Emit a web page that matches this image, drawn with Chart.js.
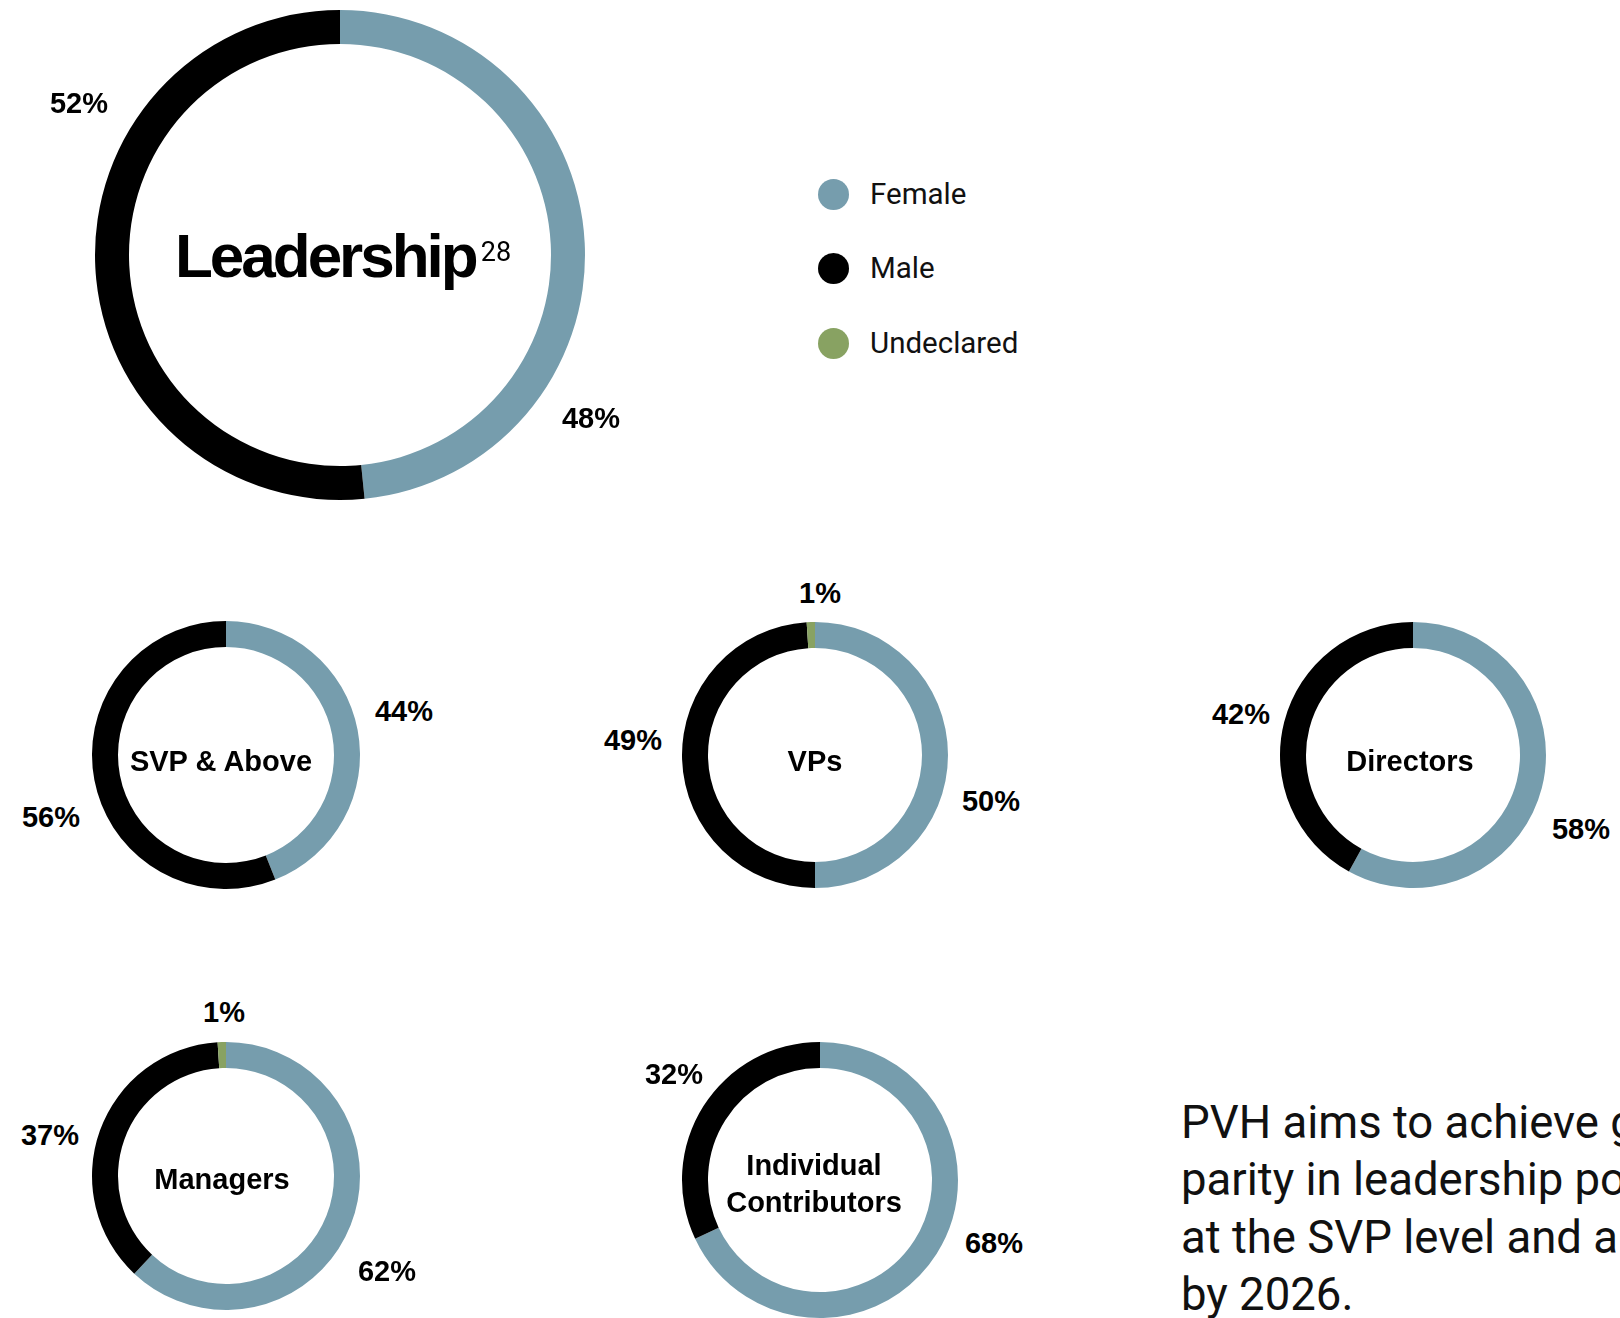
<!DOCTYPE html>
<html>
<head>
<meta charset="utf-8">
<title>Leadership gender representation</title>
<script src="https://cdn.jsdelivr.net/npm/chart.js@4.4.1/dist/chart.umd.min.js"></script>
<style>
  body { margin: 0; background: #fff; }
  #page {
    position: relative;
    width: 1620px;
    height: 1318px;
    overflow: hidden;
    font-family: 'Liberation Sans', Arial, sans-serif;
    color: #000;
  }
  .donut { position: absolute; }
  .pct {
    position: absolute;
    transform: translate(-50%, -50%);
    font-weight: bold;
    font-size: 29px;
    line-height: 1;
    white-space: nowrap;
  }
  .center-label {
    position: absolute;
    transform: translate(-50%, -50%);
    font-weight: bold;
    font-size: 29px;
    line-height: 37px;
    text-align: center;
    white-space: pre-line;
  }
  .center-label.big {
    font-size: 62px;
    letter-spacing: -3px;
    line-height: 1;
    white-space: nowrap;
  }
  .center-label .sup {
    font-family: Roboto, sans-serif;
    font-weight: normal;
    font-size: 27px;
    letter-spacing: 0;
    line-height: 0;
    vertical-align: 16px;
    margin-left: 5px;
  }
  .legend-item {
    position: absolute;
    left: 818px;
    height: 32px;
    display: flex;
    align-items: center;
    font-family: Roboto, sans-serif;
    font-size: 29.5px;
    color: #111;
  }
  .legend-dot {
    width: 31px;
    height: 31px;
    border-radius: 50%;
    margin-right: 21px;
  }
  #note {
    position: absolute;
    left: 1181px;
    top: 1094px;
    font-family: Roboto, sans-serif;
    font-size: 45.5px;
    line-height: 57.3px;
    white-space: nowrap;
    color: #111;
  }
</style>
</head>
<body>
<div id="page">
  <div id="note">PVH aims to achieve gender<br>parity in leadership positions<br>at the SVP level and above<br>by 2026.</div>
</div>
<script>
  // Data (labels are the rounded values)
  const groups = ['Leadership', 'SVP & Above', 'VPs', 'Directors', 'Managers', 'Individual\nContributors'];
  const categories = ['Female', 'Male', 'Undeclared'];
  const colors = ['#769dad', '#000000', '#88a262'];
  const female = [48.4, 44, 50, 58, 62, 68];
  const male = [51.6, 56, 49, 42, 37, 32];
  const undeclared = [0, 0, 1, 0, 1, 0];
  const leadershipFootnote = '28';

  // Where each donut and its labels sit on the page
  const layout = [
    { cx: 340, cy: 255, r: 245, inner: 211, labels: [[591, 418], [79, 103], null], title: [343, 256] },
    { cx: 226, cy: 755, r: 134, inner: 108, labels: [[404, 711], [51, 817], null], title: [221, 761] },
    { cx: 815, cy: 755, r: 133, inner: 107, labels: [[991, 801], [633, 740], [820, 593]], title: [815, 761] },
    { cx: 1413, cy: 755, r: 133, inner: 107, labels: [[1581, 829], [1241, 714], null], title: [1410, 761] },
    { cx: 226, cy: 1176, r: 134, inner: 108, labels: [[387, 1271], [50, 1135], [224, 1012]], title: [222, 1179] },
    { cx: 820, cy: 1180, r: 138, inner: 112, labels: [[994, 1243], [674, 1074], null], title: [814, 1184] }
  ];
  const legendY = [194, 268, 343];

  const page = document.getElementById('page');

  function addDiv(cls, x, y, text) {
    const d = document.createElement('div');
    d.className = cls;
    d.style.left = x + 'px';
    d.style.top = y + 'px';
    d.textContent = text;
    page.appendChild(d);
    return d;
  }

  groups.forEach((name, i) => {
    const L = layout[i];
    const size = 2 * L.r + 4;
    const canvas = document.createElement('canvas');
    canvas.className = 'donut';
    canvas.width = size;
    canvas.height = size;
    canvas.style.left = (L.cx - size / 2) + 'px';
    canvas.style.top = (L.cy - size / 2) + 'px';
    page.appendChild(canvas);

    new Chart(canvas.getContext('2d'), {
      type: 'doughnut',
      data: {
        labels: categories,
        datasets: [{
          data: [female[i], male[i], undeclared[i]],
          backgroundColor: colors,
          borderWidth: 0,
          hoverOffset: 0
        }]
      },
      options: {
        responsive: false,
        animation: false,
        events: [],
        radius: L.r,
        cutout: (L.inner / L.r * 100) + '%',
        layout: { padding: 0 },
        plugins: {
          legend: { display: false },
          tooltip: { enabled: false }
        }
      }
    });

    // percentage labels
    const values = [female[i], male[i], undeclared[i]];
    values.forEach((v, k) => {
      if (v > 0 && L.labels[k]) {
        addDiv('pct', L.labels[k][0], L.labels[k][1], Math.round(v) + '%');
      }
    });

    // centre label
    const t = addDiv('center-label', L.title[0], L.title[1], name);
    if (i === 0) {
      t.classList.add('big');
      const sup = document.createElement('span');
      sup.className = 'sup';
      sup.textContent = leadershipFootnote;
      t.appendChild(sup);
    }
  });

  // legend
  categories.forEach((c, k) => {
    const item = document.createElement('div');
    item.className = 'legend-item';
    item.style.top = (legendY[k] - 16) + 'px';
    item.innerHTML = `<div class="legend-dot" style="background:${colors[k]}"></div><span>${c}</span>`;
    page.appendChild(item);
  });
</script>
</body>
</html>
